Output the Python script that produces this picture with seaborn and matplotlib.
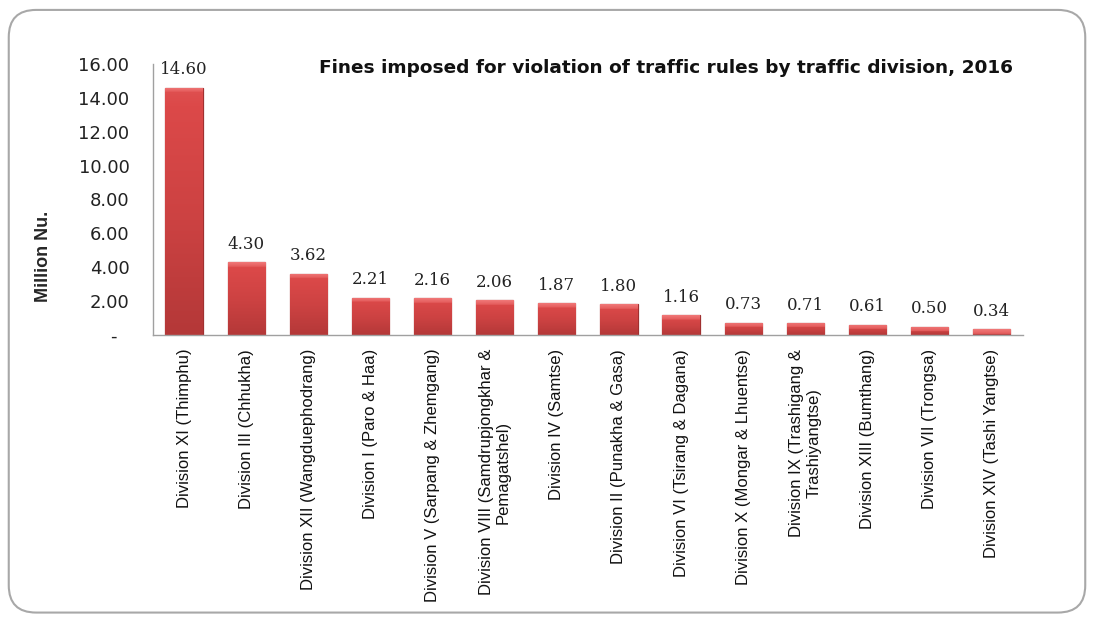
import numpy as np
import seaborn as sns
import pandas as pd
import matplotlib.pyplot as plt
from matplotlib.colors import LinearSegmentedColormap
from matplotlib.patches import FancyBboxPatch

divisions = [
    "Division XI (Thimphu)",
    "Division III (Chhukha)",
    "Division XII (Wangduephodrang)",
    "Division I (Paro & Haa)",
    "Division V (Sarpang & Zhemgang)",
    "Division VIII (Samdrupjongkhar &\nPemagatshel)",
    "Division IV (Samtse)",
    "Division II (Punakha & Gasa)",
    "Division VI (Tsirang & Dagana)",
    "Division X (Mongar & Lhuentse)",
    "Division IX (Trashigang &\nTrashiyangtse)",
    "Division XIII (Bumthang)",
    "Division VII (Trongsa)",
    "Division XIV (Tashi Yangtse)",
]
fines = [14.60, 4.30, 3.62, 2.21, 2.16, 2.06, 1.87, 1.80, 1.16, 0.73, 0.71, 0.61, 0.50, 0.34]
yticks = [0, 2, 4, 6, 8, 10, 12, 14, 16]

df = pd.DataFrame({"division": divisions, "fines": fines})

sns.set_style("white")
plt.rcParams["font.family"] = ["Liberation Sans", "DejaVu Sans"]

fig = plt.figure(figsize=(10.94, 6.2), dpi=100)
ax = fig.add_axes([0.1399, 0.4597, 0.795, 0.4371])

sns.barplot(data=df, x="division", y="fines", color="#D64545", width=0.6,
            edgecolor="#A03030", linewidth=0.9, saturation=1, ax=ax)

# shaded fill like the old 3D Excel bars: darker bottom, bright bevel on top
cmap = LinearSegmentedColormap.from_list("bar", ["#B43838", "#CC4242", "#DC4949", "#F07878"])
for p in ax.patches:
    x0, w, h = p.get_x(), p.get_width(), p.get_height()
    n = max(int(h / 0.02), 4)
    grad = np.linspace(0, 0.72, n)
    top = max(1, int(0.28 / h * n))
    grad[-top:] = np.linspace(0.8, 1.0, top)
    im = ax.imshow(grad.reshape(-1, 1), extent=[x0, x0 + w, 0, h], origin="lower", aspect="auto",
                   cmap=cmap, vmin=0, vmax=1, zorder=p.get_zorder() + 0.1)
    im.set_clip_path(p)

for i, v in enumerate(fines):
    ax.text(i, v + 0.55, f"{v:.2f}", ha="center", va="bottom", fontsize=12,
            family=["DejaVu Serif"], color="#222222")

ax.set_ylim(0, 16)
ax.set_xlim(-0.5, len(fines) - 0.5)
ax.set_yticks(yticks)
ax.set_yticklabels(["-  "] + [f"{t:.2f}" for t in yticks[1:]], fontsize=13, family=["DejaVu Sans"],
                   color="#222222")
ax.tick_params(axis="y", length=5, width=0.8, color="#A0A0A0", direction="out", pad=12)
ax.tick_params(axis="x", length=0, pad=10)
ax.set_xticks(range(len(divisions)))
ax.set_xticklabels(divisions, rotation=90, fontsize=12, ha="center", va="top",
                   multialignment="center", color="#111111")
ax.set_xlabel("")
ax.set_ylabel("Million Nu.", fontsize=13, fontweight="bold")
ax.yaxis.set_label_coords(-0.116, 0.29)
for s in ["top", "right"]:
    ax.spines[s].set_visible(False)
for s in ["left", "bottom"]:
    ax.spines[s].set_color("#A0A0A0")
    ax.spines[s].set_linewidth(1.0)

fig.text(0.292, 0.89, "Fines imposed for violation of traffic rules by traffic division, 2016",
         fontsize=13.3, fontweight="bold", ha="left", va="center",
         family=["DejaVu Sans"], color="#111111")

frame = FancyBboxPatch((0.008, 0.012), 0.984, 0.972, boxstyle="round,pad=0,rounding_size=0.025",
                       transform=fig.transFigure, fill=False, edgecolor="#A8A8A8", linewidth=1.5,
                       mutation_aspect=1.76)
fig.patches.append(frame)

fig.savefig("out.png", dpi=100)
